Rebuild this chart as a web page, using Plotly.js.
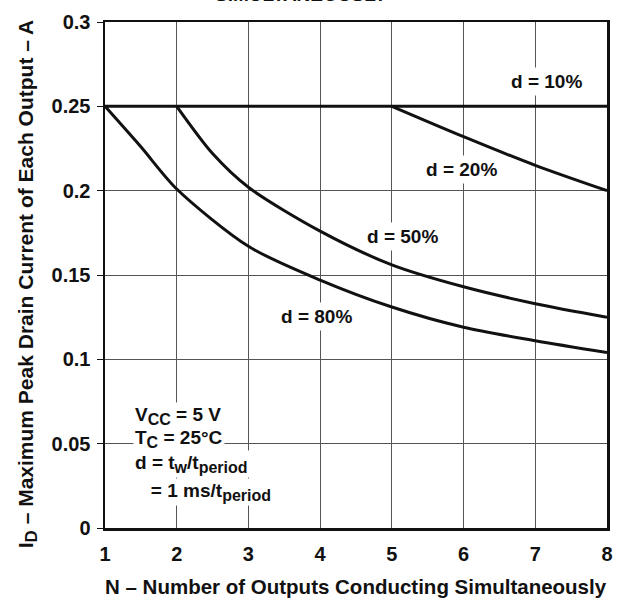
<!DOCTYPE html>
<html><head><meta charset="utf-8">
<script src="https://cdn.plot.ly/plotly-3.0.1.min.js"></script>
<style>html,body{margin:0;padding:0;background:#fff}#c{width:623px;height:599px}</style>
</head><body><div id="c"></div>
<script>
const xTicks = [1,2,3,4,5,6,7,8];
const yTicks = [0,0.05,0.1,0.15,0.2,0.25,0.3];
const yTickLabels = ['0','0.05','0.1','0.15','0.2','0.25','0.3'];

const d10x = [1,2,3,4,5,6,7,8];
const d10y = [0.25,0.25,0.25,0.25,0.25,0.25,0.25,0.25];

const d20x = [5,6,7,8];
const d20y = [0.25,0.232,0.215,0.2];

const d50x = [2,2.5,3,4,5,6,7,8];
const d50y = [0.25,0.222,0.202,0.176,0.156,0.143,0.133,0.125];

const d80x = [1,1.5,2,3,4,5,6,7,8];
const d80y = [0.25,0.226,0.201,0.167,0.147,0.131,0.119,0.111,0.104];

const curveLabels = ['d = 10%','d = 20%','d = 50%','d = 80%'];
const S = s => '<sub><span style="font-size:16px">'+s+'</span></sub>';
const condLines = ['V'+S('CC')+' = 5 V','T'+S('C')+' = 25°C','d = t'+S('w')+'/t'+S('period'),'   = 1 ms/t'+S('period')];

const F = 'Liberation Sans, Arial, sans-serif';
const FS = 19;
const lineStyle = {color:'#111', width:3};
function tr(x,y,shape){return {x:x,y:y,mode:'lines',type:'scatter',line:Object.assign({shape:shape||'spline',smoothing:0.8},lineStyle),hoverinfo:'skip',showlegend:false};}

const data = [tr(d10x,d10y,'linear'), tr(d20x,d20y), tr(d50x,d50y), tr(d80x,d80y)];

const lab = (t,x,y)=>({text:'<b>'+t+'</b>',x:x,y:y,xref:'x',yref:'y',showarrow:false,font:{family:F,size:FS,color:'#111'},bgcolor:'#fff',borderpad:3});
const annotations = [
  lab(curveLabels[0],7.15,0.2645),
  lab(curveLabels[1],5.97,0.2125),
  lab(curveLabels[2],5.15,0.173),
  lab(curveLabels[3],3.95,0.1255),
];
const condY = [0.0665,0.0525,0.038,0.0215];
condLines.forEach((t,i)=>{
  annotations.push({text:'<b>'+t.replace(/ (?![^<]*>)/g,'&nbsp;')+'</b>',x:1.39,y:condY[i],xref:'x',yref:'y',xanchor:'left',showarrow:false,font:{family:F,size:FS,color:'#111'},bgcolor:'#fff',borderpad:1});
});
annotations.push({text:'<b>I<sub><span style="font-size:17px">D</span></sub> – Maximum Peak Drain Current of Each Output – A</b>',xref:'paper',yref:'paper',x:-0.155,y:0.482,xanchor:'center',yanchor:'middle',textangle:-90,showarrow:false,font:{family:F,size:21,color:'#111'}});
annotations.push({text:'<b>N – Number of Outputs Conducting Simultaneously</b>',xref:'paper',yref:'paper',x:0.5,y:-0.115,xanchor:'center',yanchor:'middle',showarrow:false,font:{family:F,size:20.5,color:'#111'}});
annotations.push({text:'<b>SIMULTANEOUSLY</b>',xref:'paper',yref:'paper',x:0.39,y:1.0,yshift:15,xanchor:'center',yanchor:'bottom',showarrow:false,font:{family:F,size:19,color:'#111'}});

const layout = {
  width:623,height:599,
  margin:{l:105,r:16,t:22,b:71},
  paper_bgcolor:'#fff',plot_bgcolor:'#fff',
  showlegend:false,
  xaxis:{range:[1,8],tickvals:xTicks,ticktext:xTicks.map(x=>'<b>'+x+'</b>'),showgrid:true,gridcolor:'#555',gridwidth:1,zeroline:false,
    showline:true,linecolor:'#111',linewidth:2.5,mirror:true,ticks:'',ticklabelstandoff:6,tickfont:{family:F,size:20,color:'#111'}},
  yaxis:{range:[0,0.3],tickvals:yTicks,ticktext:yTickLabels.map(t=>'<b>'+t+'</b>'),showgrid:true,gridcolor:'#555',gridwidth:1,zeroline:false,
    showline:true,linecolor:'#111',linewidth:2.5,mirror:true,ticks:'outside',ticklen:6,tickcolor:'#111',ticklabelstandoff:2,tickfont:{family:F,size:20,color:'#111'}},
  annotations:annotations
};
Plotly.newPlot('c',data,layout,{displayModeBar:false,staticPlot:true});
</script></body></html>
